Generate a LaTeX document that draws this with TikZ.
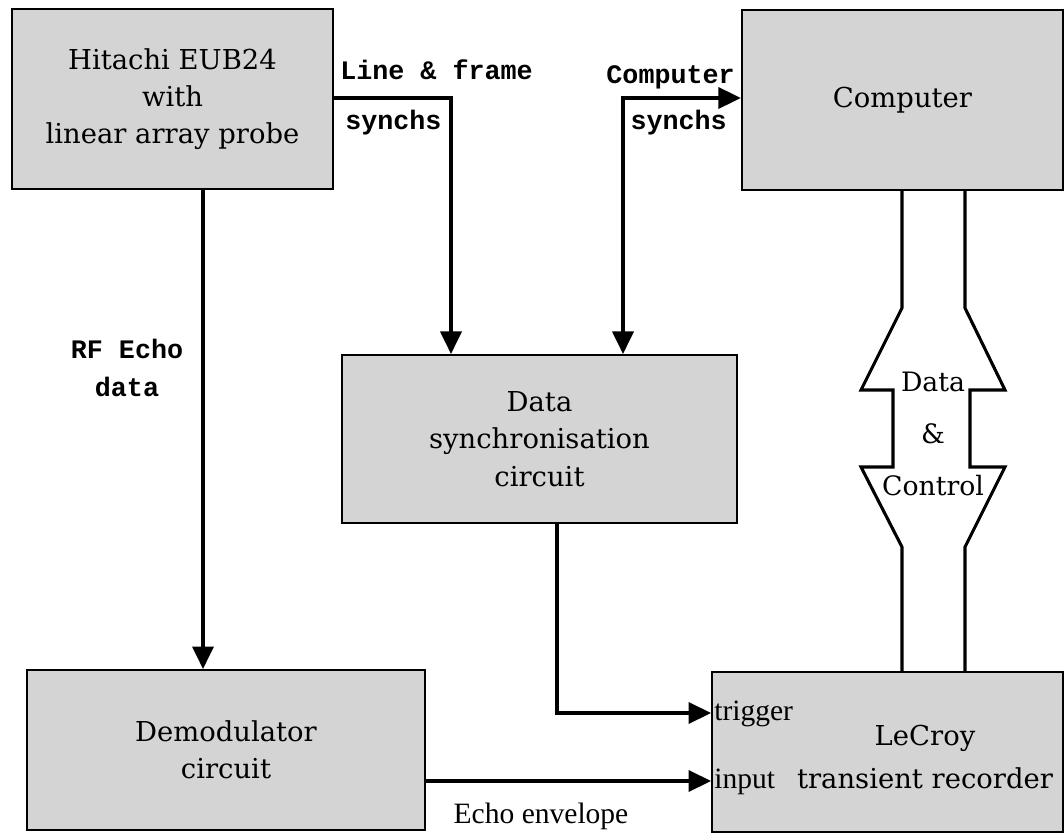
\documentclass[tikz,border=0pt]{standalone}
\usepackage{fontspec}
\setmainfont{DejaVu Serif}
\newfontfamily\typefont{Liberation Mono}
\newfontfamily\notefont{Liberation Serif}
\usetikzlibrary{arrows.meta,positioning}
\tikzset{block/.style = {draw, rectangle, line width=1.4pt, fill=black!17, align=center, font=\fontsize{19.5}{26.5}\selectfont},
         sig/.style = {-{Triangle[length=16pt,width=15pt]}, line width=2.3pt},
         sigboth/.style = {{Triangle[length=16pt,width=15pt]}-{Triangle[length=16pt,width=15pt]}, line width=2.3pt},
         bus/.style = {line width=2.2pt},
         tag/.style = {font=\typefont\bfseries\fontsize{19}{27}\selectfont, inner sep=0pt},
         note/.style = {font=\notefont\fontsize{21}{24}\selectfont, inner sep=0pt},
}

\begin{document}
\begin{tikzpicture}[x=0.025cm, y=-0.025cm]
  \useasboundingbox (0,0) rectangle (1064,840);

  \node[block, minimum width=8.03cm, minimum height=4.5cm] (hitachi) at (172.5,99) {Hitachi EUB24\\with\\linear array probe};
  \node[block, minimum width=8.03cm, minimum height=4.5cm] (computer) at (902.5,100) {Computer};
  \node[block, minimum width=9.875cm, minimum height=4.2cm] (datasync) at (539.5,439) {Data\\synchronisation\\circuit};
  \node[block, minimum width=9.95cm, minimum height=4cm] (demod) at (226,750) {Demodulator\\circuit};
  \node[block, minimum width=8.77cm, minimum height=4cm] (lecroy) at (887.5,752) {};
  \node[align=center, font=\fontsize{19.5}{31}\selectfont] (lecroytxt) at (925,757) {LeCroy\\transient recorder};

  \coordinate (lfbend) at (451,98);
  \coordinate (csbend) at (623,98);
  \coordinate (rfx) at (203,400);
  \coordinate (tgbend) at (557,713);
  \coordinate (inpy) at (600,781);

  \draw[sig] (hitachi.east |- lfbend) -- (lfbend) -- (lfbend |- datasync.north);
  \draw[sigboth] (csbend |- datasync.north) -- (csbend) -- (computer.west |- csbend);
  \draw[sig] (rfx |- hitachi.south) -- (rfx |- demod.north);
  \draw[sig] (tgbend |- datasync.south) -- (tgbend) -- (lecroy.west |- tgbend);
  \draw[sig] (demod.east |- inpy) -- (lecroy.west |- inpy);

  % data & control bus
  \draw[bus] (902,0 |- computer.south) -- (902,308) -- (861,390) -- (893,390) -- (893,467) -- (861,467) -- (902,547) -- (902,0 |- lecroy.north);
  \draw[bus] (965,0 |- computer.south) -- (965,308) -- (1005,390) -- (970,390) -- (970,467) -- (1005,467) -- (965,547) -- (965,0 |- lecroy.north);
  \node[align=center, font=\fontsize{19}{37}\selectfont] (buslbl) at (933,434) {Data\\\&\\Control};

  \node[tag, anchor=base west] (lftop) at (340,80) {Line \& frame};
  \node[tag, anchor=base west] (lfbot) at (345,130) {synchs};
  \node[tag, anchor=base east] (cstop) at (735,84) {Computer};
  \node[tag, anchor=base east] (csbot) at (727,130) {synchs};
  \node[tag, align=center] (rflbl) at (127,368) {RF Echo\\data};
  \node[note, anchor=base] (envlbl) at (541,823) {Echo envelope};
  \node[note, anchor=base west] (trglbl) at (714,720) {trigger};
  \node[note, anchor=base west] (inplbl) at (714,788) {input};

\end{tikzpicture}
\end{document}
